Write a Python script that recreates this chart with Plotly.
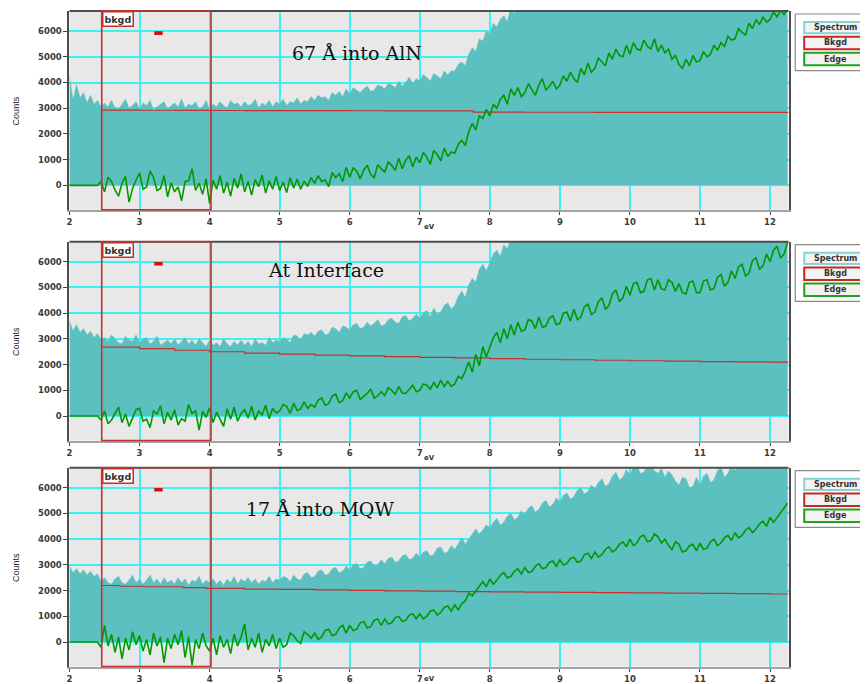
import plotly.graph_objects as go

# ---------------- data (counts vs energy loss, eV) ----------------
E_START = 2.0   # first channel energy
E_STEP = 0.05   # channel width used for the read-off values

x_ticks = [2, 3, 4, 5, 6, 7, 8, 9, 10, 11, 12]
y_ticks = [0, 1000, 2000, 3000, 4000, 5000, 6000]
panel_titles = ["67 Å into AlN", "At Interface", "17 Å into MQW"]
series_names = ["Spectrum", "Bkgd", "Edge"]
bkgd_window = [2.46, 4.02]
bkgd_handle_ev = [3.21, 3.33]
bkgd_handle_counts = [5850, 5990]

# ---- panel 1 : 67 Å into AlN ----
spectrum_aln = [
    4200, 3300, 3900, 3400, 3600, 3200, 3500, 3150, 3300, 3050,
    3200, 3050, 3300, 3000, 2950, 3150, 3350, 3000, 3100, 3250,
    2950, 3200, 3100, 3300, 2900, 3050, 3150, 3250, 2950, 3100,
    3200, 3050, 3350, 3000, 3150, 3100, 3250, 2950, 3050, 3300,
    2950, 3150, 3050, 3250, 3100, 3000, 3300, 3150, 3200, 3050,
    3250, 3100, 3150, 3350, 3000, 3200, 3100, 3300, 3050, 3250,
    3150, 3350, 3100, 3250, 3200, 3400, 3150, 3300, 3250, 3450,
    3300, 3500, 3400, 3450, 3300, 3600, 3500, 3650, 3450, 3750,
    3550, 3800, 3700, 3600, 3750, 3850, 3650, 3700, 3900, 3850,
    3750, 3950, 3900, 3800, 4050, 3850, 4000, 4200, 3950, 4150,
    4050, 4300, 4200, 4050, 4350, 4250, 4150, 4450, 4300, 4450,
    4450, 4700, 4800, 4650, 5100, 5350, 5200, 5700, 5600, 6000,
    5900, 6300, 6150, 6450, 6600, 6350, 6900, 6650, 7000, 6750,
    6900, 7200, 7000, 7300, 7050, 7400, 7100, 7350, 7150, 7450,
    7200, 7500, 7300, 7650, 7350, 7800, 7450, 7900, 7600, 8000,
    7700, 8150, 7850, 8300, 8000, 8450, 8100, 8550, 8200, 8650,
    8300, 8750, 8350, 8800, 8400, 8850, 8450, 8800, 8350, 8650,
    8200, 8450, 8000, 8250, 7800, 8200, 7850, 8250, 7900, 8350,
    8000, 8400, 8150, 8600, 8300, 8750, 8450, 8950, 8650, 9150,
    8850, 9300, 9000, 9450, 9150, 9600, 9300, 9750, 9450, 9850,
    9550, 9950, 9650, 10000, 9700, 10100,
]
edge_aln = [
    0, 0, 0, 0, 0, 0, 0, 0, 0, 150,
    -250, 320, 150, -180, -420, 90, 350, -650, -120, 200,
    480, -150, -60, 560, 300, -200, -120, 380, -450, 100,
    -250, -60, -600, 150, 180, 650, -200, 90, -350, 250,
    -700, 200, -150, 380, -300, 120, -420, 280, -100, 450,
    -250, 150, -380, 220, -50, 400, -300, 180, -150, 350,
    -200, 120, -280, 300, -100, 250, -150, 150, -20, 300,
    80, 380, 150, 220, -50, 500, 300, 450, 150, 700,
    320, 680, 560, 250, 600, 780, 420, 300, 800, 650,
    520, 900, 780, 580, 1050, 650, 980, 1150, 720, 1100,
    880, 1280, 1100, 820, 1350, 1200, 950, 1450, 1120, 1300,
    1250, 1600, 1750, 1550, 2100, 2400, 2150, 2700, 2600, 2950,
    2700, 3150, 3000, 3350, 3500, 3150, 3750, 3500, 3800, 3450,
    3600, 3950, 3700, 3500, 3900, 4150, 3700, 3850, 4050, 3750,
    3900, 4250, 4050, 4400, 4150, 4000, 4550, 4300, 4750, 4400,
    4550, 4950, 4800, 4650, 5150, 4900, 5300, 5050, 5000, 5450,
    5100, 5550, 5300, 5250, 5650, 5400, 5300, 5700, 5200, 5450,
    5150, 5300, 4900, 5050, 4700, 4550, 4900, 4650, 5050, 4800,
    4850, 5200, 5000, 5100, 5450, 5250, 5550, 5400, 5800, 5650,
    5700, 6100, 5950, 5850, 6300, 6100, 6450, 6250, 6550, 6350,
    6450, 6750, 6550, 6800, 6650, 6850,
]
bkgd_aln_ev = [2.46, 3.0, 3.5, 4.0, 4.5, 5.0, 5.5, 6.0, 6.5, 7.0, 7.76, 8.5, 9.5, 10.5, 11.5, 12.265]
bkgd_aln = [2925, 2920, 2915, 2912, 2910, 2907, 2905, 2902, 2900, 2897, 2845, 2843, 2840, 2838, 2835, 2835]

# ---- panel 2 : At Interface ----
spectrum_interface = [
    3700, 3300, 3550, 3250, 3400, 3150, 3300, 3050, 3200, 2950,
    3050, 2900, 3150, 3000, 2850, 2800, 3100, 2950, 2900, 3150,
    2850, 3000, 3050, 2800, 2900, 3100, 2750, 2850, 2950, 2800,
    3000, 2750, 2900, 3050, 2800, 2950, 2750, 3000, 2850, 2700,
    2950, 2750, 2850, 2700, 3000, 2800, 2700, 2900, 2750, 2950,
    2750, 2900, 2700, 3000, 2800, 2850, 2750, 3050, 2850, 2950,
    2900, 3050, 3000, 2850, 3150, 3100, 2950, 3200, 3150, 3250,
    3100, 3300, 3350, 3150, 3200, 3450, 3400, 3250, 3500, 3450,
    3350, 3550, 3600, 3400, 3450, 3650, 3500, 3600, 3750, 3500,
    3550, 3750, 3800, 3650, 3600, 3850, 3900, 3700, 3800, 3950,
    3800, 4000, 4100, 3850, 4200, 3950, 4050, 4300, 4400, 4150,
    4300, 4650, 4850, 4600, 5100, 5350, 5200, 5700, 5900, 5650,
    5950, 6300, 6450, 6200, 6650, 6500, 6900, 6700, 7000, 6850,
    6750, 7050, 6850, 7100, 6900, 7200, 6950, 7250, 7000, 7300,
    7050, 7350, 7100, 7450, 7200, 7550, 7300, 7700, 7450, 7850,
    7550, 7950, 7650, 8100, 7800, 8250, 7950, 8400, 8100, 8550,
    8200, 8650, 8300, 8700, 8350, 8800, 8400, 8850, 8450, 8800,
    8400, 8800, 8350, 8700, 8300, 8650, 8250, 8700, 8300, 8750,
    8300, 8750, 8400, 8800, 8450, 8900, 8550, 9000, 8700, 9150,
    8850, 9300, 8950, 9400, 9050, 9550, 9200, 9650, 9350, 9800,
    9500, 9950, 9650, 10100, 9800, 10250,
]
edge_interface = [
    0, 0, 0, 0, 0, 0, 0, 0, 0, -150,
    200, -300, -150, 100, 350, -250, 80, -400, -50, 250,
    300, -200, -120, -450, 200, 80, 400, -300, 150, -150,
    250, -350, -100, -200, 450, 100, 200, -550, 180, -50,
    320, -250, 150, -100, -400, 280, -120, 350, -200, 100,
    250, -80, 380, -150, 200, 50, 420, -100, 300, 120,
    200, 450, 380, 100, 500, 220, 280, 550, 300, 450,
    350, 620, 700, 420, 480, 780, 850, 520, 600, 900,
    700, 950, 1000, 650, 750, 880, 1050, 700, 780, 950,
    800, 1100, 1000, 850, 1150, 900, 880, 1050, 1200, 950,
    1000, 1250, 1200, 1050, 1300, 1100, 1400, 1150, 1350, 1150,
    1250, 1550, 1450, 1750, 2100, 1700, 2400, 1950, 2700, 2300,
    2650, 3050, 3250, 2850, 3400, 3000, 3550, 3150, 3650, 3300,
    3350, 3750, 3700, 3400, 3850, 3450, 3500, 3800, 3900, 3550,
    3600, 4000, 4050, 3700, 4150, 3750, 3850, 4250, 4350, 3950,
    4050, 4450, 4600, 4150, 4300, 4750, 4900, 4450, 4600, 5050,
    4700, 5150, 5200, 4800, 4850, 5300, 5350, 4900, 5300, 4950,
    4900, 5300, 5200, 4850, 5150, 4800, 4750, 5200, 5250, 4800,
    4800, 5250, 5300, 4900, 4950, 5400, 5500, 5050, 5200, 5650,
    5350, 5800, 5900, 5450, 5550, 6050, 6150, 5700, 5850, 6300,
    6000, 6450, 6600, 6150, 6300, 6750,
]
bkgd_interface_ev = [2.46, 3.0, 3.5, 4.0, 4.5, 5.0, 5.5, 6.0, 6.5, 7.0, 7.5,
                     8.0, 8.5, 9.0, 9.5, 10.0, 10.5, 11.0, 11.5, 12.0, 12.265]
bkgd_interface = [2680, 2620, 2560, 2500, 2450, 2410, 2370, 2340, 2310, 2280, 2260,
                  2230, 2210, 2190, 2170, 2150, 2140, 2120, 2110, 2100, 2100]

# ---- panel 3 : 17 Å into MQW ----
spectrum_mqw = [
    2950, 2700, 2850, 2650, 2800, 2600, 2750, 2550, 2650, 2350,
    2500, 2300, 2250, 2450, 2550, 2300, 2250, 2400, 2600, 2300,
    2450, 2250, 2400, 2600, 2300, 2450, 2250, 2500, 2300, 2400,
    2250, 2500, 2300, 2450, 2200, 2400, 2350, 2550, 2250, 2400,
    2300, 2450, 2250, 2400, 2200, 2450, 2300, 2550, 2250, 2450,
    2350, 2500, 2300, 2450, 2250, 2400, 2350, 2550, 2300, 2450,
    2400, 2550, 2500, 2350, 2600, 2450, 2400, 2650, 2700, 2500,
    2550, 2750, 2800, 2600, 2650, 2850, 2900, 2700, 2750, 2950,
    2800, 3000, 3050, 2850, 2900, 3100, 3150, 2950, 3000, 3200,
    3050, 3250, 3300, 3100, 3150, 3350, 3400, 3200, 3250, 3450,
    3300, 3500, 3550, 3350, 3400, 3650, 3700, 3450, 3500, 3750,
    3600, 3850, 4050, 3800, 4000, 4250, 4400, 4200, 4350, 4550,
    4450, 4650, 4800, 4550, 4650, 4900, 5000, 4750, 4850, 5100,
    4950, 5200, 5300, 5050, 5150, 5400, 5500, 5250, 5350, 5600,
    5450, 5700, 5800, 5550, 5650, 5900, 6000, 5750, 5850, 6100,
    5950, 6200, 6350, 6050, 6150, 6450, 6600, 6300, 6400, 6700,
    6500, 6800, 6850, 6550, 6600, 6900, 6850, 6650, 6550, 6750,
    6400, 6650, 6500, 6250, 6100, 6400, 6350, 6000, 6050, 6400,
    6100, 6450, 6550, 6200, 6300, 6650, 6800, 6400, 6550, 6900,
    6650, 7000, 6750, 7100, 6850, 7200, 6950, 7300, 7050, 7400,
    7150, 7500, 7250, 7600, 7350, 7700,
]
edge_mqw = [
    0, 0, 0, 0, 0, 0, 0, 0, 0, -200,
    650, -150, 300, -400, 200, -650, 150, -300, 400, -100,
    250, -350, 100, -500, 350, -150, 200, -800, 150, -250,
    300, -100, 450, -600, 200, -900, 100, -250, 350, -150,
    -350, 150, -500, 250, -200, 100, -450, 300, -150, 200,
    700, -300, 150, -200, 350, -400, 100, -150, 300, -250,
    150, -200, -100, 350, 250, 50, -50, 400, 300, 150,
    350, 100, 200, 450, 500, 250, 300, 550, 650, 350,
    650, 450, 500, 750, 800, 550, 600, 850, 900, 650,
    900, 700, 750, 950, 1000, 800, 850, 1050, 1100, 900,
    1100, 900, 1000, 1200, 1250, 1050, 1150, 1350, 1400, 1200,
    1450, 1250, 1500, 1600, 1900, 1800, 2000, 2150, 2350, 2150,
    2450, 2250, 2400, 2600, 2700, 2500, 2550, 2750, 2850, 2650,
    2900, 2700, 2750, 2950, 3050, 2850, 2900, 3100, 3150, 2950,
    3200, 3000, 3050, 3250, 3300, 3100, 3150, 3400, 3450, 3250,
    3500, 3300, 3400, 3600, 3700, 3500, 3600, 3800, 3900, 3700,
    4000, 3750, 3850, 4100, 4150, 3900, 3950, 4200, 4100, 3850,
    4000, 3750, 3600, 3900, 3800, 3500, 3550, 3750, 3800, 3550,
    3850, 3600, 3650, 3900, 4000, 3750, 3850, 4050, 4150, 3950,
    4250, 4050, 4150, 4350, 4450, 4250, 4400, 4600, 4700, 4500,
    4850, 4650, 4850, 5000, 5200, 5400,
]
bkgd_mqw_ev = [2.46, 2.72, 3.06, 3.62, 3.95, 4.5, 5.0, 5.5, 6.0, 6.5, 7.0,
               7.5, 8.0, 8.5, 9.0, 9.5, 10.0, 10.5, 11.0, 11.5, 12.0, 12.265]
bkgd_mqw = [2200, 2170, 2150, 2120, 2090, 2060, 2050, 2030, 2010, 1990, 1980,
            1960, 1950, 1940, 1930, 1920, 1910, 1900, 1890, 1880, 1870, 1870]

panels = [
    (spectrum_aln, edge_aln, bkgd_aln_ev, bkgd_aln),
    (spectrum_interface, edge_interface, bkgd_interface_ev, bkgd_interface),
    (spectrum_mqw, edge_mqw, bkgd_mqw_ev, bkgd_mqw),
]

# ---------------- styling / layout ----------------
OFF = 8                    # page (body) margin in which the figure sits
W, H = 860, 676            # figure size so that figure + margin = window
X_RANGE = [2.0, 12.265]
Y_RANGE = [-950, 6780]
PANEL_TOP_PX = [11.0, 241.7, 467.7]   # window pixel positions
PANEL_H_PX = 198.8
EV_SHIFT = [-17, -17, -12]

C_SPEC = "#5cbfc0"
C_BKGD = "#c6302c"
C_EDGE = "#009a00"
C_GRID = "#3ff0f0"
C_BG = "#e8e8e8"
TICK_FONT = dict(family="DejaVu Sans", size=8.5, color="#3a3a3a", weight="bold")
BTN_COLORS = ["#84d4d4", "#cc2424", "#22a022"]


def px_x(p):
    return (p - OFF) / W


def px_y(p):
    return 1 - (p - OFF) / H


X_DOM = [px_x(66.7), px_x(788.3)]

fig = go.Figure()
shapes = []
annotations = []

for k, (spec, edge, bx, by) in enumerate(panels):
    sfx = "" if k == 0 else str(k + 1)
    xa, ya = "x" + sfx, "y" + sfx
    ev_spec = [E_START + E_STEP * i for i in range(len(spec))]
    ev_edge = [E_START + E_STEP * i for i in range(len(edge))]

    fig.add_trace(go.Scatter(x=ev_spec, y=spec, xaxis=xa, yaxis=ya, mode="lines",
                             line=dict(color=C_SPEC, width=0.6), fill="tozeroy",
                             fillcolor=C_SPEC, name=series_names[0], showlegend=False,
                             hoverinfo="skip"))
    fig.add_trace(go.Scatter(x=bx, y=by, xaxis=xa, yaxis=ya, mode="lines",
                             line=dict(color=C_BKGD, width=1.2, shape="hv"),
                             name=series_names[1], showlegend=False, hoverinfo="skip"))
    fig.add_trace(go.Scatter(x=ev_edge, y=edge, xaxis=xa, yaxis=ya, mode="lines",
                             line=dict(color=C_EDGE, width=1.6),
                             name=series_names[2], showlegend=False, hoverinfo="skip"))

    top = PANEL_TOP_PX[k]
    bot = top + PANEL_H_PX
    fig.layout["xaxis" + sfx] = dict(
        domain=X_DOM, range=X_RANGE, anchor=ya, tickvals=x_ticks,
        ticks="outside", ticklen=3, tickcolor="#444", tickfont=TICK_FONT,
        showgrid=True, gridcolor=C_GRID, gridwidth=1.5, zeroline=False,
        showline=True, linecolor="#a3a3a3", linewidth=2, fixedrange=True)
    fig.layout["yaxis" + sfx] = dict(
        domain=[px_y(bot), px_y(top)], range=Y_RANGE, anchor=xa, tickvals=y_ticks,
        ticks="outside", ticklen=4, tickcolor="#444", tickfont=TICK_FONT,
        showgrid=True, gridcolor=C_GRID, gridwidth=1.5, zeroline=False,
        showline=True, mirror=True, linecolor="#4d4d4d", linewidth=2, fixedrange=True)

    xd, yd = xa + " domain", ya + " domain"
    # top frame line
    shapes.append(dict(type="line", xref=xd, yref=yd, x0=0, x1=1, y0=1, y1=1,
                       line=dict(color="#4d4d4d", width=2), layer="above"))
    # background fitting window
    shapes.append(dict(type="rect", xref=xa, yref=yd, x0=bkgd_window[0], x1=bkgd_window[1],
                       y0=0, y1=1, line=dict(color=C_BKGD, width=1.6), layer="above"))
    shapes.append(dict(type="rect", xref=xa, yref=ya, x0=bkgd_handle_ev[0], x1=bkgd_handle_ev[1],
                       y0=bkgd_handle_counts[0], y1=bkgd_handle_counts[1],
                       fillcolor="#d40f0f", line=dict(width=0), layer="above"))
    annotations.append(dict(xref=xa, yref=yd, x=bkgd_window[0], y=1, xanchor="left",
                            yanchor="top", text="bkgd", showarrow=False,
                            font=dict(family="DejaVu Sans", size=9.5, color="#333", weight="bold"),
                            bgcolor="white", bordercolor=C_BKGD, borderwidth=1.5, borderpad=1))
    # panel label
    title_pos = [(355, 52.7), (324, 270), (318, 509)][k]
    annotations.append(dict(xref="paper", yref="paper", x=px_x(title_pos[0]), y=px_y(title_pos[1]),
                            xanchor="center", yanchor="middle", text=panel_titles[k],
                            showarrow=False,
                            font=dict(family="DejaVu Serif", size=19, color="#111")))
    # axis titles
    annotations.append(dict(xref="paper", yref="paper", x=px_x(13), y=px_y(top + PANEL_H_PX / 2),
                            xanchor="center", yanchor="middle", text="Counts", textangle=-90,
                            showarrow=False,
                            font=dict(family="Liberation Sans Narrow, Arial Narrow, sans-serif",
                                      size=9, color="#222")))
    annotations.append(dict(xref=xd, yref=yd, x=0.5, y=0, yshift=EV_SHIFT[k], xanchor="center",
                            yanchor="middle", text="eV", showarrow=False,
                            font=dict(family="DejaVu Sans", size=7, color="#333", weight="bold")))
    # legend panel
    shapes.append(dict(type="rect", xref="paper", yref="paper", x0=px_x(795), x1=px_x(880),
                       y0=px_y(top + 59.7), y1=px_y(top + 3), fillcolor="white",
                       line=dict(color="#8a8a8a", width=1.2), layer="above"))
    rows = [(11.0, 22.3), (25.7, 38.3), (41.7, 54.3)]
    for j, (r0, r1) in enumerate(rows):
        shapes.append(dict(type="rect", xref="paper", yref="paper", x0=px_x(804), x1=px_x(866),
                           y0=px_y(top + r1), y1=px_y(top + r0), fillcolor="#f3f3f3",
                           line=dict(color=BTN_COLORS[j], width=2), layer="above"))
        annotations.append(dict(xref="paper", yref="paper", x=px_x(835), y=px_y(top + (r0 + r1) / 2),
                                xanchor="center", yanchor="middle", text=series_names[j],
                                showarrow=False,
                                font=dict(family="DejaVu Sans", size=8, color="#333", weight="bold")))

fig.update_layout(
    width=W, height=H, autosize=False,
    margin=dict(l=0, r=0, t=0, b=0),
    plot_bgcolor=C_BG, paper_bgcolor="white",
    shapes=shapes, annotations=annotations, showlegend=False,
)

fig.write_html("out.html")
